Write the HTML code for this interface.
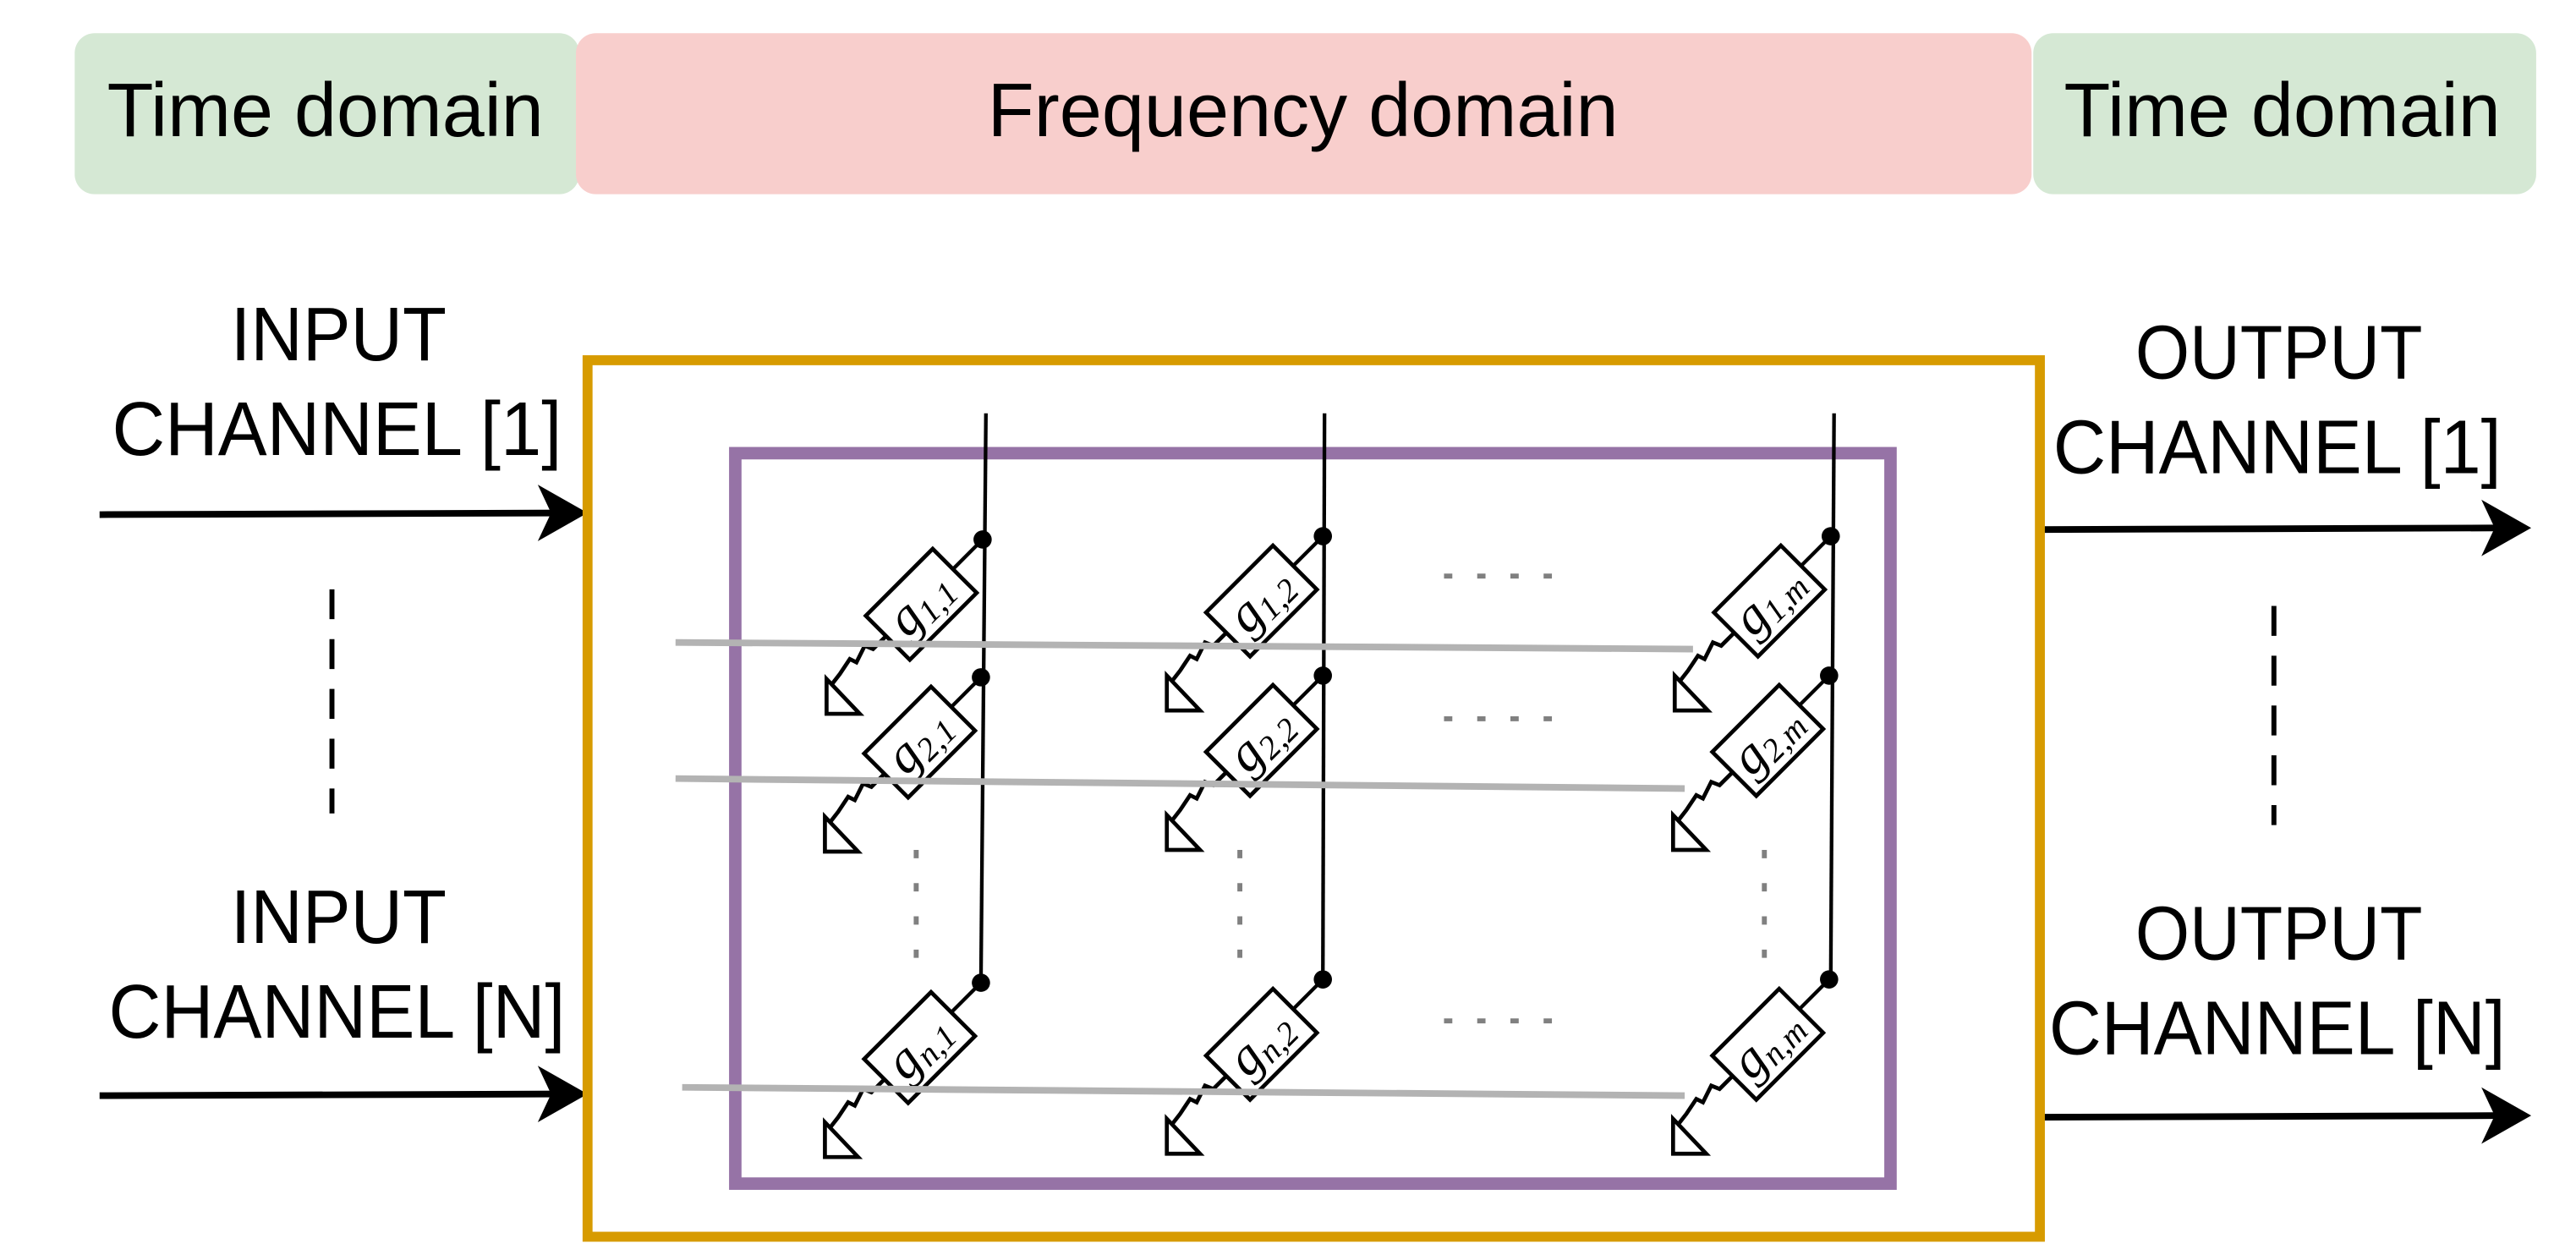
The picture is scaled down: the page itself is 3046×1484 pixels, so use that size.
<!DOCTYPE html>
<html><head><meta charset="utf-8"><style>html,body{margin:0;padding:0;background:#fff}svg{display:block}</style></head>
<body>
<svg width="3046" height="1484" viewBox="0 0 1552 756" preserveAspectRatio="none" xmlns="http://www.w3.org/2000/svg">
<defs>
<g id="el">
  <line x1="0" y1="0" x2="-18" y2="18" stroke="#000" stroke-width="2.2"/>
  <g transform="translate(-37,39) rotate(-45)">
    <rect x="-28.5" y="-18.7" width="57" height="37.5" fill="#fff" stroke="#000" stroke-width="2.4"/>
  </g>
  <polyline points="-58,58 -66,66 -71,64 -76,74 -80,72 -86,81 -93,90" fill="none" stroke="#000" stroke-width="2.4"/>
  <polygon points="-94,84 -94,105 -74,105" fill="#fff" stroke="#000" stroke-width="2.4"/>
</g>
</defs>
<rect x="45" y="20" width="304" height="97" rx="12" fill="#d5e8d4"/>
<rect x="347" y="20" width="877" height="97" rx="12" fill="#f8cecc"/>
<rect x="1225" y="20" width="303" height="97" rx="12" fill="#d5e8d4"/>
<g font-family="'Liberation Sans Narrow','Liberation Sans',sans-serif" font-size="46" fill="#000" text-anchor="middle">
<text x="196" y="82" textLength="263" lengthAdjust="spacingAndGlyphs">Time domain</text>
<text x="785" y="82" textLength="380" lengthAdjust="spacingAndGlyphs">Frequency domain</text>
<text x="1375" y="82" textLength="263" lengthAdjust="spacingAndGlyphs">Time domain</text>
<text x="204" y="217" textLength="130" lengthAdjust="spacingAndGlyphs">INPUT</text>
<text x="203" y="274" textLength="271" lengthAdjust="spacingAndGlyphs">CHANNEL [1]</text>
<text x="204" y="568" textLength="130" lengthAdjust="spacingAndGlyphs">INPUT</text>
<text x="203" y="625" textLength="275" lengthAdjust="spacingAndGlyphs">CHANNEL [N]</text>
<text x="1373" y="228" textLength="173" lengthAdjust="spacingAndGlyphs">OUTPUT</text>
<text x="1372" y="285" textLength="270" lengthAdjust="spacingAndGlyphs">CHANNEL [1]</text>
<text x="1373" y="578" textLength="173" lengthAdjust="spacingAndGlyphs">OUTPUT</text>
<text x="1372" y="635" textLength="275" lengthAdjust="spacingAndGlyphs">CHANNEL [N]</text>
</g>
<g stroke="#000" stroke-width="4">
<line x1="60" y1="310" x2="340" y2="309"/>
<line x1="60" y1="660" x2="340" y2="659"/>
<line x1="1230" y1="319" x2="1512" y2="318"/>
<line x1="1230" y1="673" x2="1512" y2="672"/>
<line x1="200" y1="355" x2="200" y2="490" stroke-dasharray="18,12" stroke-width="3"/>
<line x1="1370" y1="365" x2="1370" y2="497" stroke-dasharray="18,12" stroke-width="3"/>
</g>
<g fill="#000">
<polygon points="354,309 324,292 332,309 324,326"/>
<polygon points="354,659 324,642 332,659 324,676"/>
<polygon points="1525,318 1495,301 1503,318 1495,335"/>
<polygon points="1525,672 1495,655 1503,672 1495,689"/>
</g>
<rect x="354" y="217" width="875" height="528" fill="none" stroke="#d79b00" stroke-width="6"/>
<rect x="443" y="273" width="696" height="440" fill="none" stroke="#9673a6" stroke-width="7.5"/>
<g stroke="#000" stroke-width="2.2">
<line x1="594" y1="249" x2="591" y2="592"/>
<line x1="798" y1="249" x2="797" y2="590"/>
<line x1="1105" y1="249" x2="1103" y2="590"/>
</g>
<g>
<use href="#el" x="592" y="325"/><use href="#el" x="591" y="408"/><use href="#el" x="591" y="592"/>
<use href="#el" x="797" y="323"/><use href="#el" x="797" y="407"/><use href="#el" x="797" y="590"/>
<use href="#el" x="1103" y="323"/><use href="#el" x="1102" y="407"/><use href="#el" x="1102" y="590"/>
</g>
<g fill="#000">
<circle cx="592" cy="325" r="5.5"/><circle cx="591" cy="408" r="5.5"/><circle cx="591" cy="592" r="5.5"/>
<circle cx="797" cy="323" r="5.5"/><circle cx="797" cy="407" r="5.5"/><circle cx="797" cy="590" r="5.5"/>
<circle cx="1103" cy="323" r="5.5"/><circle cx="1102" cy="407" r="5.5"/><circle cx="1102" cy="590" r="5.5"/>
</g>
<g font-family="'Liberation Serif',serif" font-style="italic" font-size="32" fill="#000" text-anchor="middle">
<text transform="translate(555,364) rotate(-45)" dy="9">g<tspan font-size="20" dy="4">1,1</tspan></text>
<text transform="translate(554,447) rotate(-45)" dy="9">g<tspan font-size="20" dy="4">2,1</tspan></text>
<text transform="translate(554,631) rotate(-45)" dy="9">g<tspan font-size="20" dy="4">n,1</tspan></text>
<text transform="translate(760,362) rotate(-45)" dy="9">g<tspan font-size="20" dy="4">1,2</tspan></text>
<text transform="translate(760,446) rotate(-45)" dy="9">g<tspan font-size="20" dy="4">2,2</tspan></text>
<text transform="translate(760,629) rotate(-45)" dy="9">g<tspan font-size="20" dy="4">n,2</tspan></text>
<text transform="translate(1066,362) rotate(-45)" dy="9">g<tspan font-size="20" dy="4">1,m</tspan></text>
<text transform="translate(1065,446) rotate(-45)" dy="9">g<tspan font-size="20" dy="4">2,m</tspan></text>
<text transform="translate(1065,629) rotate(-45)" dy="9">g<tspan font-size="20" dy="4">n,m</tspan></text>
</g>
<g stroke="#b3b3b3" stroke-width="4">
<line x1="407" y1="387" x2="1020" y2="391"/>
<line x1="407" y1="469" x2="1015" y2="475"/>
<line x1="411" y1="655" x2="1015" y2="660"/>
</g>
<g stroke="#808080" stroke-width="3" stroke-dasharray="5,15">
<line x1="870" y1="347" x2="938" y2="347"/>
<line x1="870" y1="433" x2="938" y2="433"/>
<line x1="870" y1="615" x2="938" y2="615"/>
<line x1="552" y1="512" x2="552" y2="578"/>
<line x1="747" y1="512" x2="747" y2="578"/>
<line x1="1063" y1="512" x2="1063" y2="578"/>
</g>
</svg>
</body></html>
